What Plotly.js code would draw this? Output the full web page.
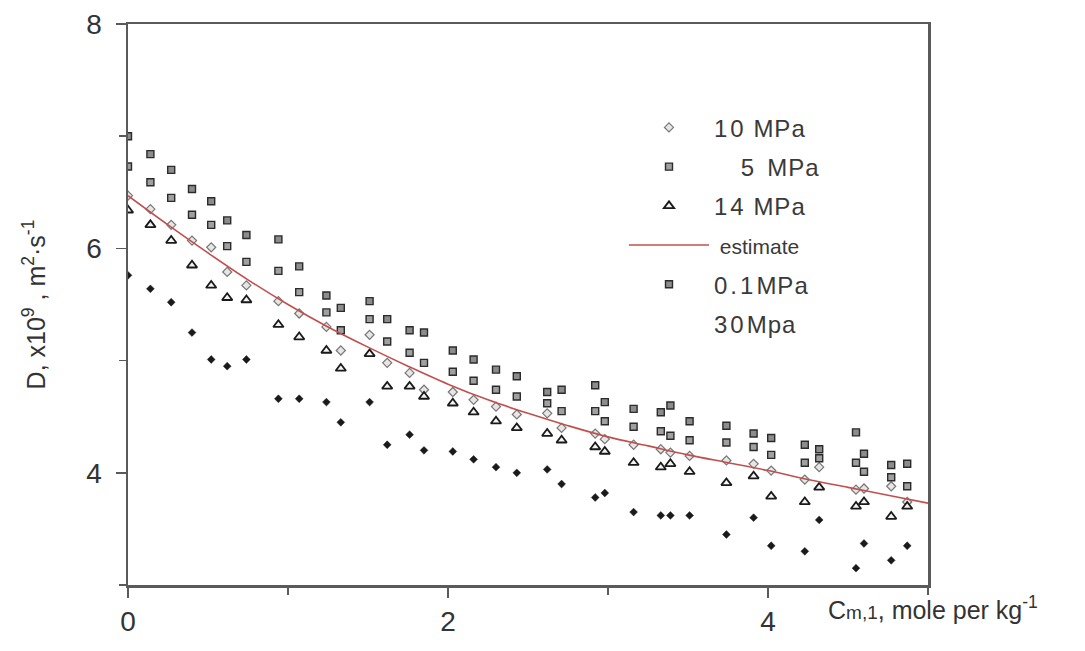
<!DOCTYPE html>
<html>
<head>
<meta charset="utf-8">
<script src="https://cdn.plot.ly/plotly-3.0.1.min.js"></script>
<style>html,body{margin:0;padding:0;background:#fff;}#chart{width:1085px;height:651px;}</style>
</head>
<body>
<div id="chart"></div>
<script>
// concentration columns (mole per kg)
const conc = [0, 0.14, 0.27, 0.40, 0.52, 0.62, 0.74, 0.94, 1.07, 1.24, 1.33, 1.51, 1.62, 1.76, 1.85, 2.03, 2.16, 2.30, 2.43, 2.62, 2.71, 2.92, 2.98, 3.16, 3.33, 3.39, 3.51, 3.74, 3.91, 4.02, 4.23, 4.32, 4.55, 4.60, 4.77, 4.87];

const d10MPa = [6.47, 6.35, 6.21, 6.07, 6.01, 5.79, 5.67, 5.53, 5.42, 5.30, 5.09, 5.23, 4.98, 4.89, 4.74, 4.72, 4.65, 4.59, 4.52, 4.53, 4.40, 4.35, 4.30, 4.25, 4.21, 4.18, 4.15, 4.11, 4.08, 4.02, 3.94, 4.05, 3.85, 3.86, 3.88, 3.74];
const d5MPa = [6.73, 6.59, 6.45, 6.30, 6.21, 6.02, 5.88, 5.80, 5.61, 5.43, 5.27, 5.37, 5.17, 5.07, 4.98, 4.90, 4.82, 4.74, 4.68, 4.62, 4.55, 4.55, 4.46, 4.41, 4.37, 4.33, 4.29, 4.27, 4.23, 4.16, 4.09, 4.13, 4.09, 4.01, 3.96, 3.88];
const d14MPa = [6.34, 6.21, 6.07, 5.85, 5.67, 5.56, 5.54, 5.32, 5.21, 5.09, 4.93, 5.06, 4.77, 4.77, 4.68, 4.62, 4.54, 4.46, 4.40, 4.35, 4.29, 4.23, 4.19, 4.09, 4.05, 4.08, 4.01, 3.91, 3.97, 3.79, 3.74, 3.87, 3.70, 3.74, 3.61, 3.70];
const d01MPa = [7.00, 6.84, 6.70, 6.53, 6.42, 6.25, 6.12, 6.08, 5.84, 5.58, 5.47, 5.53, 5.37, 5.27, 5.25, 5.09, 5.01, 4.92, 4.86, 4.72, 4.74, 4.78, 4.63, 4.57, 4.54, 4.60, 4.46, 4.42, 4.35, 4.31, 4.25, 4.21, 4.36, 4.17, 4.07, 4.08];
const d30MPa = [5.76, 5.64, 5.52, 5.25, 5.01, 4.95, 5.01, 4.66, 4.66, 4.63, 4.45, 4.63, 4.25, 4.34, 4.20, 4.19, 4.12, 4.05, 4.00, 4.03, 3.90, 3.78, 3.82, 3.65, 3.62, 3.62, 3.62, 3.45, 3.60, 3.35, 3.30, 3.58, 3.15, 3.37, 3.22, 3.35];

// estimate curve
const estX = [0, 0.25, 0.5, 0.75, 1, 1.25, 1.5, 1.75, 2, 2.25, 2.5, 2.75, 3, 3.25, 3.5, 3.75, 4, 4.25, 4.5, 4.75, 5];
const estY = [6.47, 6.21, 5.96, 5.72, 5.50, 5.30, 5.12, 4.95, 4.79, 4.65, 4.53, 4.42, 4.32, 4.24, 4.16, 4.09, 4.02, 3.94, 3.87, 3.80, 3.73];

const nb = '\u00a0';
const wide = (s) => '<span style="letter-spacing:3px">' + s + '</span>';
const unit = (s) => '<span style="letter-spacing:1px">' + s + '</span>';
const names = [wide('10') + nb + unit('MPa'), nb + nb + nb + nb + '5' + nb + nb + unit('MPa'), wide('14') + nb + unit('MPa'),
               '<span style="font-size:21px">' + nb + 'estimate</span>', wide('0.1') + unit('MPa'), wide('30') + unit('Mpa')];

const sq = (fill) => ({symbol: 'square', size: 7, color: fill, line: {color: '#2b2b2b', width: 1.4}});
const FONT = 'Liberation Sans, Arial, sans-serif';

const traces = [
  {x: conc, y: d10MPa, name: names[0], mode: 'markers', legendgroup: 'a',
   marker: {symbol: 'diamond', size: 7, color: '#e6e6e6', line: {color: '#777', width: 1.2}}},
  {x: conc, y: d5MPa, name: names[1], mode: 'markers', legendgroup: 'b', marker: sq('#a0a0a0')},
  {x: conc, y: d14MPa, name: names[2], mode: 'markers', legendgroup: 'c',
   marker: {symbol: 'triangle-up', size: 9, color: '#f4f4f4', line: {color: '#1a1a1a', width: 1.8}}},
  {x: estX, y: estY, name: names[3], mode: 'lines', line: {color: '#c0504d', width: 1.6, shape: 'spline'}, legendgroup: 'd'},
  {x: conc, y: d01MPa, name: names[4], mode: 'markers', legendgroup: 'e', marker: sq('#8c8c8c')},
  {x: conc, y: d30MPa, name: names[5], mode: 'markers', legendgroup: 'f', showlegend: false,
   marker: {symbol: 'diamond', size: 6, color: '#1a1a1a', line: {color: '#1a1a1a', width: 0.5}}},
  {x: [null], y: [null], name: names[5], mode: 'markers', legendgroup: 'f',
   marker: {size: 0.1, color: 'rgba(0,0,0,0)'}}
];

const axisCommon = {
  showgrid: false, zeroline: false, showline: true, linecolor: '#5a5a5a', linewidth: 2.5,
  mirror: true, ticks: 'outside', ticklen: 10, tickwidth: 1.5, tickcolor: '#5a5a5a',
  tickfont: {family: FONT, size: 28, color: '#333'},
  minor: {ticks: 'outside', dtick: 1, ticklen: 7, tickwidth: 1.5, tickcolor: '#5a5a5a'}
};

const layout = {
  width: 1085, height: 651,
  margin: {l: 128, r: 157, t: 24, b: 66},
  paper_bgcolor: '#fff', plot_bgcolor: '#fff',
  showlegend: true,
  xaxis: Object.assign({}, axisCommon, {range: [0, 5], dtick: 2, tick0: 0, ticklabelstandoff: 0}),
  yaxis: Object.assign({}, axisCommon, {range: [3, 8], tickvals: [4, 6, 8], ticklabelstandoff: 8,
    title: {text: 'D, x10<sup>9</sup> , m<sup>2</sup>\u00b7s<sup>-1</sup>', standoff: 34,
            font: {family: FONT, size: 25, color: '#333'}}}),
  legend: {x: 0.62, y: 0.855, xanchor: 'left', yanchor: 'top', bgcolor: 'rgba(0,0,0,0)',
           font: {family: FONT, size: 24, color: '#3a3a3a'},
           itemwidth: 80, traceorder: 'grouped', tracegroupgap: 5},
  annotations: [{
    xref: 'paper', yref: 'paper', x: 0.873, y: 0, yshift: -23, xanchor: 'left', yanchor: 'middle',
    showarrow: false, text: 'C<span style="font-size:19px">m,1</span>, mole per kg<sup>-1</sup>',
    font: {family: FONT, size: 25, color: '#333'}
  }]
};

Plotly.newPlot('chart', traces, layout, {displayModeBar: false, staticPlot: true});
</script>
</body>
</html>
